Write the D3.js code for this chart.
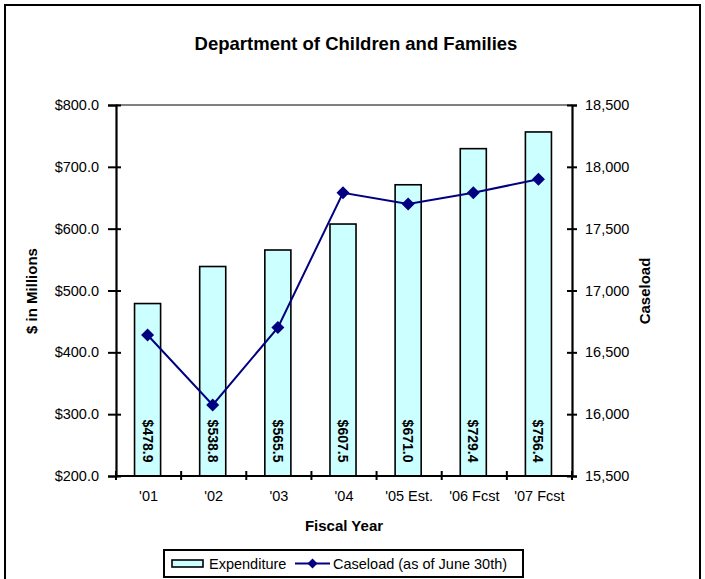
<!DOCTYPE html>
<html>
<head>
<meta charset="utf-8">
<script src="https://cdn.jsdelivr.net/npm/d3@7"></script>
<style>
  html, body { margin: 0; padding: 0; background: #fff; }
  svg { display: block; font-family: "Liberation Sans", Arial, sans-serif; }
</style>
</head>
<body>
<svg id="chart" width="705" height="579"></svg>
<script>
const categories = ["'01", "'02", "'03", "'04", "'05 Est.", "'06 Fcst", "'07 Fcst"];
const expenditure = [478.9, 538.8, 565.5, 607.5, 671.0, 729.4, 756.4];
const caseload = [16640, 16075, 16700, 17790, 17700, 17790, 17900];
const leftTicks = [200, 300, 400, 500, 600, 700, 800];
const rightTicks = [15500, 16000, 16500, 17000, 17500, 18000, 18500];

const svg = d3.select("#chart");
const W = 705, H = 579;
const plot = { left: 116, right: 572, top: 105, bottom: 476 };

// outer border
svg.append("rect").attr("x", 5).attr("y", 5).attr("width", 695).attr("height", 620)
  .attr("fill", "none").attr("stroke", "#000").attr("stroke-width", 2);

// title
svg.append("text").attr("x", 356).attr("y", 50).attr("text-anchor", "middle")
  .attr("font-size", 18.5).attr("font-weight", "bold").text("Department of Children and Families");

const x = d3.scaleBand().domain(categories).range([plot.left, plot.right]).padding(0);
const yL = d3.scaleLinear().domain([200, 800]).range([plot.bottom, plot.top]);
const yR = d3.scaleLinear().domain([15500, 18500]).range([plot.bottom, plot.top]);

// top border of plot area (gray)
svg.append("line").attr("x1", plot.left).attr("x2", plot.right)
  .attr("y1", plot.top).attr("y2", plot.top)
  .attr("stroke", "#808080").attr("stroke-width", 2);

// bars
const barW = x.bandwidth() * 0.4;
svg.append("g").selectAll("rect").data(expenditure).join("rect")
  .attr("x", (d, i) => x(categories[i]) + x.bandwidth() / 2 - barW / 2 - 1)
  .attr("y", d => yL(d))
  .attr("width", barW)
  .attr("height", d => yL(200) - yL(d))
  .attr("fill", "#CCFFFF").attr("stroke", "#000").attr("stroke-width", 1.6);

// bar labels
svg.append("g").selectAll("text").data(expenditure).join("text")
  .attr("transform", (d, i) => `translate(${x(categories[i]) + x.bandwidth() / 2 - 1},441) rotate(90)`)
  .attr("text-anchor", "middle").attr("dominant-baseline", "central")
  .attr("font-size", 14).attr("font-weight", "bold")
  .text(d => "$" + d3.format(".1f")(d));

// left axis
const gL = svg.append("g").attr("transform", `translate(${plot.left},0)`)
  .call(d3.axisLeft(yL).tickValues(leftTicks).tickSizeOuter(0).tickSize(8).tickPadding(9)
    .tickFormat(d => "$" + d3.format(".1f")(d)));
gL.select(".domain").attr("stroke-width", 2.2);
gL.selectAll(".tick line").attr("x2", 5).attr("x1", -8).attr("stroke-width", 2);
gL.selectAll(".tick text").attr("font-size", 14.5).attr("font-family", "Liberation Sans, Arial, sans-serif").attr("fill", "#000");

// right axis
const gR = svg.append("g").attr("transform", `translate(${plot.right},0)`)
  .call(d3.axisRight(yR).tickValues(rightTicks).tickSizeOuter(0).tickSize(5).tickPadding(8)
    .tickFormat(d3.format(",")));
gR.select(".domain").attr("stroke-width", 2.2);
gR.selectAll(".tick line").attr("x1", -5).attr("x2", 5).attr("stroke-width", 2);
gR.selectAll(".tick text").attr("font-size", 14.5).attr("font-family", "Liberation Sans, Arial, sans-serif").attr("fill", "#000");

// bottom axis
const gB = svg.append("g").attr("transform", `translate(0,${plot.bottom})`)
  .call(d3.axisBottom(x).tickSize(0).tickPadding(15).tickSizeOuter(0));
gB.select(".domain").attr("stroke-width", 2.2).attr("d", `M${plot.left},0H${plot.right}`);
gB.selectAll(".tick text").attr("font-size", 14.5).attr("font-family", "Liberation Sans, Arial, sans-serif").attr("fill", "#000")
  .attr("dy", "0.71em");
const bounds = categories.map(c => x(c)).concat([plot.right]);
gB.append("g").selectAll("line").data(bounds).join("line")
  .attr("x1", d => d).attr("x2", d => d).attr("y1", -5).attr("y2", 4)
  .attr("stroke", "#000").attr("stroke-width", 2);

// line series
const line = d3.line().x((d, i) => x(categories[i]) + x.bandwidth() / 2 - 1).y(d => yR(d));
svg.append("path").datum(caseload).attr("d", line)
  .attr("fill", "none").attr("stroke", "#000080").attr("stroke-width", 2);
const diamond = "M0,-6.5L6.5,0L0,6.5L-6.5,0Z";
svg.append("g").selectAll("path").data(caseload).join("path")
  .attr("transform", (d, i) => `translate(${x(categories[i]) + x.bandwidth() / 2 - 1},${yR(d)})`)
  .attr("d", diamond).attr("fill", "#000080");

// axis titles
svg.append("text").attr("transform", "translate(37,291) rotate(-90)")
  .attr("text-anchor", "middle").attr("font-size", 15).attr("font-weight", "bold").text("$ in Millions");
svg.append("text").attr("transform", "translate(650,291) rotate(-90)")
  .attr("text-anchor", "middle").attr("font-size", 15).attr("font-weight", "bold").text("Caseload");
svg.append("text").attr("x", 344).attr("y", 531)
  .attr("text-anchor", "middle").attr("font-size", 15).attr("font-weight", "bold").text("Fiscal Year");

// legend
const lg = svg.append("g");
lg.append("rect").attr("x", 164).attr("y", 550).attr("width", 359).attr("height", 27)
  .attr("fill", "#fff").attr("stroke", "#000").attr("stroke-width", 2);
lg.append("rect").attr("x", 172).attr("y", 560).attr("width", 31).attr("height", 7)
  .attr("fill", "#CCFFFF").attr("stroke", "#000").attr("stroke-width", 1.6);
lg.append("text").attr("x", 209).attr("y", 569).attr("font-size", 14.5).text("Expenditure");
lg.append("line").attr("x1", 295).attr("x2", 330).attr("y1", 563.5).attr("y2", 563.5)
  .attr("stroke", "#000080").attr("stroke-width", 2);
lg.append("path").attr("transform", "translate(312.5,563.5)").attr("d", "M0,-5L5,0L0,5L-5,0Z").attr("fill", "#000080");
lg.append("text").attr("x", 333).attr("y", 569).attr("font-size", 14.5).text("Caseload (as of June 30th)");
</script>
</body>
</html>
